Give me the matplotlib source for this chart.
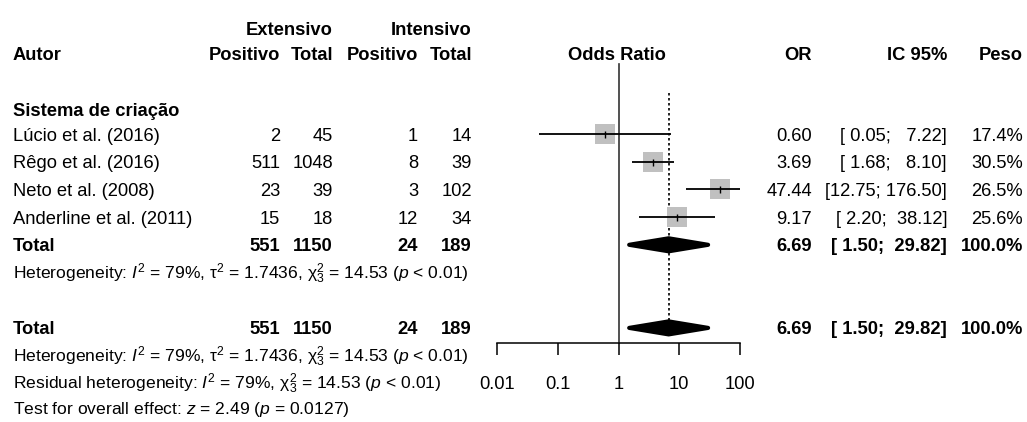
import matplotlib
matplotlib.use("Agg")
import matplotlib.pyplot as plt
from matplotlib.transforms import blended_transform_factory
from matplotlib.ticker import NullLocator

# ---------------- data ----------------
autores = ["Lúcio et al. (2016)", "Rêgo et al. (2016)", "Neto et al. (2008)", "Anderline et al. (2011)"]
ext_pos = [2, 511, 23, 15]
ext_tot = [45, 1048, 39, 18]
int_pos = [1, 8, 3, 12]
int_tot = [14, 39, 102, 34]
odds = [0.60, 3.69, 47.44, 9.17]
ci_lo = [0.05, 1.68, 12.75, 2.20]
ci_hi = [7.22, 8.10, 176.50, 38.12]
peso = [17.4, 30.5, 26.5, 25.6]
pooled_or = 6.69
pooled_lo = 1.50
pooled_hi = 29.82
pooled_w = 100.0
i2 = 79
tau2 = 1.7436
chi2 = 14.53
df = 3
z_val = 2.49
p_val = 0.0127
ticks = [0.01, 0.1, 1, 10, 100]
tick_labels = ["0.01", "0.1", "1", "10", "100"]

# ---------------- style ----------------
plt.rcParams['font.family'] = ['Liberation Sans', 'DejaVu Sans']
plt.rcParams['mathtext.fontset'] = 'custom'
plt.rcParams['mathtext.rm'] = 'Liberation Sans'
plt.rcParams['mathtext.it'] = 'Liberation Sans:italic'
plt.rcParams['mathtext.bf'] = 'Liberation Sans:bold'
FS = 13.2
FS_SMALL = 12.6

W, H = 1027, 422
fig = plt.figure(figsize=(W / 100, H / 100), dpi=100)
x0_px, x1_px = 497, 740
ax = fig.add_axes([x0_px / W, 0, (x1_px - x0_px) / W, 1])
ax.set_xscale('log')
ax.set_xlim(ticks[0], ticks[-1])

r0_px, step = 134.0, 27.7


def ypx(px):
    return (px - r0_px) / step


ax.set_ylim(ypx(H), ypx(0))
trans = blended_transform_factory(fig.transFigure, ax.transData)
base_off = 6.6 / step


def txt(xpx, row, s, ha='left', bold=False, size=FS):
    ax.text(xpx / W, row + base_off, s, transform=trans, ha=ha, va='baseline',
            fontsize=size, fontweight='bold' if bold else 'normal', color='black')


# headers
txt(333, ypx(28), "Extensivo", 'right', True)
txt(472, ypx(28), "Intensivo", 'right', True)
hy = ypx(53)
txt(13, hy, "Autor", 'left', True)
txt(280, hy, "Positivo", 'right', True)
txt(333, hy, "Total", 'right', True)
txt(418, hy, "Positivo", 'right', True)
txt(472, hy, "Total", 'right', True)
txt(617, hy, "Odds Ratio", 'center', True)
txt(812, hy, "OR", 'right', True)
txt(947, hy, "IC 95%", 'right', True)
txt(1023, hy, "Peso", 'right', True)
txt(13, ypx(109), "Sistema de criação", 'left', True)


def ci_str(lo, hi):
    return "[{:>5}; {:>6}]".format(f"{lo:.2f}", f"{hi:.2f}")


rows = list(range(len(autores)))
for r, a, ep, et, ip, it, o, lo, hi, w in zip(rows, autores, ext_pos, ext_tot, int_pos, int_tot,
                                                odds, ci_lo, ci_hi, peso):
    txt(13, r, a)
    txt(280, r, str(ep), 'right')
    txt(333, r, str(et), 'right')
    txt(418, r, str(ip), 'right')
    txt(472, r, str(it), 'right')
    txt(812, r, f"{o:.2f}", 'right')
    txt(947, r, ci_str(lo, hi), 'right')
    txt(1023, r, f"{w:.1f}%", 'right')

tot_rows = [4, 7]
for tr in tot_rows:
    txt(13, tr, "Total", 'left', True)
    txt(280, tr, str(sum(ext_pos)), 'right', True)
    txt(333, tr, str(sum(ext_tot)), 'right', True)
    txt(418, tr, str(sum(int_pos)), 'right', True)
    txt(472, tr, str(sum(int_tot)), 'right', True)
    txt(812, tr, f"{pooled_or:.2f}", 'right', True)
    txt(947, tr, ci_str(pooled_lo, pooled_hi), 'right', True)
    txt(1023, tr, f"{pooled_w:.1f}%", 'right', True)

het = (r"Heterogeneity: $I^2$ = " + f"{i2}%, " + r"τ$^2$ = " + f"{tau2:.4f}, "
       + r"χ$^2_{" + str(df) + r"}$ = " + f"{chi2:.2f} (" + r"$p$ < 0.01)")
txt(13, 5, het, size=FS_SMALL)
txt(13, ypx(355), het, size=FS_SMALL)
res = (r"Residual heterogeneity: $I^2$ = " + f"{i2}%, " + r"χ$^2_{" + str(df) + r"}$ = "
       + f"{chi2:.2f} (" + r"$p$ < 0.01)")
txt(13, ypx(382), res, size=FS_SMALL)
test = r"Test for overall effect: $z$ = " + f"{z_val:.2f} (" + r"$p$ = " + f"{p_val:.4f})"
txt(13, ypx(407), test, size=FS_SMALL)

# ---------------- forest marks ----------------
ax.scatter(odds, rows, marker='s', s=(19.5 * 0.72) ** 2, color='#c0c0c0', linewidths=0, zorder=2)
ax.hlines(rows, ci_lo, ci_hi, color='black', lw=1.3, zorder=3)
ax.scatter(odds, rows, marker='|', s=(7 * 0.72) ** 2, color='black', linewidths=1.0, zorder=4)

h = 6.5 / step
for tr in tot_rows:
    ax.fill([pooled_lo, pooled_or, pooled_hi, pooled_or], [tr, tr - h, tr, tr + h],
            facecolor='black', edgecolor='black', lw=3.0, joinstyle='round', zorder=3)

axis_row = ypx(343)
ax.plot([1, 1], [ypx(64), axis_row], color='#333333', lw=1.2, zorder=1)
ax.plot([pooled_or, pooled_or], [ypx(93), tot_rows[1]], color='black', lw=1.2,
        linestyle=(0, (1.5, 1.5)), zorder=1)

# axis
for s in ['top', 'right', 'left']:
    ax.spines[s].set_visible(False)
ax.spines['bottom'].set_position(('data', axis_row))
ax.spines['bottom'].set_bounds(ticks[0], ticks[-1])
ax.spines['bottom'].set_linewidth(1.1)
ax.set_xticks(ticks)
ax.set_xticklabels(tick_labels)
ax.xaxis.set_minor_locator(NullLocator())
ax.tick_params(axis='x', which='major', length=12 * 0.72, width=1.1, direction='out',
               pad=15, labelsize=FS)
ax.set_yticks([])
ax.patch.set_alpha(0)

fig.savefig("out.png", dpi=100, facecolor='white')
